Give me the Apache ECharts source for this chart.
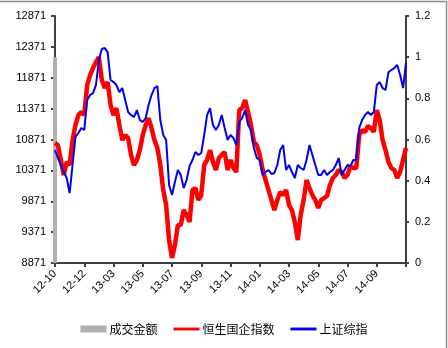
<!DOCTYPE html>
<html><head><meta charset="utf-8">
<script src="https://cdn.jsdelivr.net/npm/echarts@6/dist/echarts.min.js"></script>
<style>html,body{margin:0;padding:0;background:#fff}#c{width:448px;height:348px}</style>
</head><body><div id="c"></div>
<script>
var tickLabels = ['12-10','12-12','13-03','13-05','13-07','13-09','13-11','14-01','14-03','14-05','14-07','14-09'];
var leftTicks = [8871, 9371, 9871, 10371, 10871, 11371, 11871, 12371, 12871];
var hsceiValues = [
10814,10781,10539,10296,10506,10458,10862,11105,11267,11316,
11267,11753,11915,12028,12125,12206,11834,11704,11801,11429,
11267,11380,11105,10862,10943,10895,10620,10458,10539,10700,
10943,11105,11219,11057,10862,10733,10458,10053,9810,9243,
8952,9162,9486,9486,9729,9648,9535,10053,10085,9891,
9972,10458,10539,10700,10506,10377,10571,10620,10668,10377,
10539,10409,10344,11348,11380,11510,11316,11105,10830,10781,
10620,10377,10215,10053,9891,9729,9891,10020,9972,10053,
9810,9729,9535,9243,9648,9891,10215,10085,9972,9891,
9761,9891,9923,9956,10134,10247,10296,10377,10344,10247,
10296,10441,10409,10409,10943,11024,10992,11089,11057,10992,
11348,11186,10862,10700,10506,10409,10377,10247,10344,10539,
10733];
var shcompValues = [
10700,10571,10458,10344,10247,10004,10458,10911,10976,11057,
11024,11510,11591,11623,11753,12158,12336,12352,12287,11834,
11801,11753,11639,11704,11510,11316,11267,11235,11348,11186,
11154,11219,11429,11591,11704,11737,11186,10943,10862,10134,
9972,10182,10377,10296,10085,10215,10441,10539,10668,10620,
10652,10943,11267,11380,11105,11024,11105,11267,11057,10862,
10943,10895,10781,11154,11219,11348,11105,11024,10733,10571,
10539,10296,10344,10377,10312,10328,10458,10700,10781,10377,
10458,10344,10247,10458,10409,10377,10539,10781,10620,10458,
10296,10296,10377,10296,10344,10377,10458,10571,10296,10377,
10458,10441,10539,10539,11057,11186,11267,11316,11267,11316,
11753,11801,11704,11672,11963,11996,12028,12077,11915,11704,
12109];
var volumeValues = [1.0];

var N = hsceiValues.length;
var cats = [];
for (var i = 0; i < N; i++) cats.push(String(i));
var perTick = 10;
var volData = [];
for (var i = 0; i < N; i++) volData.push(i < volumeValues.length ? volumeValues[i] : null);

var lineIcon = 'path://M0,0 M27,7 M0,2 L27,2 L27,5 L0,5 Z';
var chart = echarts.init(document.getElementById('c'), null, {renderer: 'canvas'});
var font = 'Liberation Sans, Arial, sans-serif';
chart.setOption({
  animation: false,
  backgroundColor: '#fff',
  grid: {left: 55, right: 42, top: 16, bottom: 85, containLabel: false},
  graphic: [
    {type: 'line', shape: {x1: 0, y1: 1.5, x2: 447, y2: 1.5}, style: {stroke: '#8c8c8c', lineWidth: 1.5}},
    {type: 'line', shape: {x1: 446.5, y1: 1, x2: 446.5, y2: 348}, style: {stroke: '#8c8c8c', lineWidth: 1.5}}
  ],
  legend: {
    bottom: 8, left: 'center',
    itemWidth: 26, itemHeight: 7, itemGap: 16,
    textStyle: {fontSize: 12, color: '#000', fontFamily: 'Noto Sans CJK SC', padding: [0, 0, 0, -2]},
    data: [
      {name: '成交金额', icon: 'rect'},
      {name: '恒生国企指数', icon: lineIcon},
      {name: '上证综指', icon: lineIcon}
    ]
  },
  xAxis: {
    type: 'category', data: cats, boundaryGap: false,
    axisLine: {lineStyle: {color: '#404040', width: 2}},
    axisTick: {show: true, interval: function (idx) { return idx % perTick === 0; }, length: 4, inside: false, lineStyle: {color: '#404040', width: 2}},
    axisLabel: {
      interval: function (idx) { return idx % perTick === 0 && idx / perTick < tickLabels.length; },
      formatter: function (v, idx) { return tickLabels[idx / perTick] || ''; },
      rotate: 45, margin: 9, fontSize: 11, color: '#000', fontFamily: font
    },
    splitLine: {show: false}
  },
  yAxis: [
    {
      type: 'value', min: 8871, max: 12871, interval: 500, position: 'left',
      axisLine: {show: true, lineStyle: {color: '#404040', width: 2}},
      axisTick: {show: true, length: 4, lineStyle: {color: '#404040', width: 2}},
      axisLabel: {fontSize: 11, color: '#000', fontFamily: font, margin: 9,
        formatter: function (v) { return String(v); }},
      splitLine: {show: false}
    },
    {
      type: 'value', min: 0, max: 1.2, interval: 0.2, position: 'right',
      axisLine: {show: true, lineStyle: {color: '#404040', width: 2}},
      axisTick: {show: true, length: 3, lineStyle: {color: '#404040', width: 2}},
      axisLabel: {fontSize: 11, color: '#000', fontFamily: font, margin: 9,
        formatter: function (v) { return String(Math.round(v * 10) / 10); }},
      splitLine: {show: false}
    }
  ],
  series: [
    {name: '成交金额', type: 'bar', yAxisIndex: 1, data: volData, barWidth: 4, itemStyle: {color: '#b0b0b0'}, silent: true},
    {name: '恒生国企指数', type: 'line', data: hsceiValues, symbol: 'none', lineStyle: {color: '#ff0000', width: 4.5}, itemStyle: {color: '#ff0000'}},
    {name: '上证综指', type: 'line', data: shcompValues, symbol: 'none', lineStyle: {color: '#0000ee', width: 2}, itemStyle: {color: '#0000ee'}}
  ]
});
</script></body></html>
